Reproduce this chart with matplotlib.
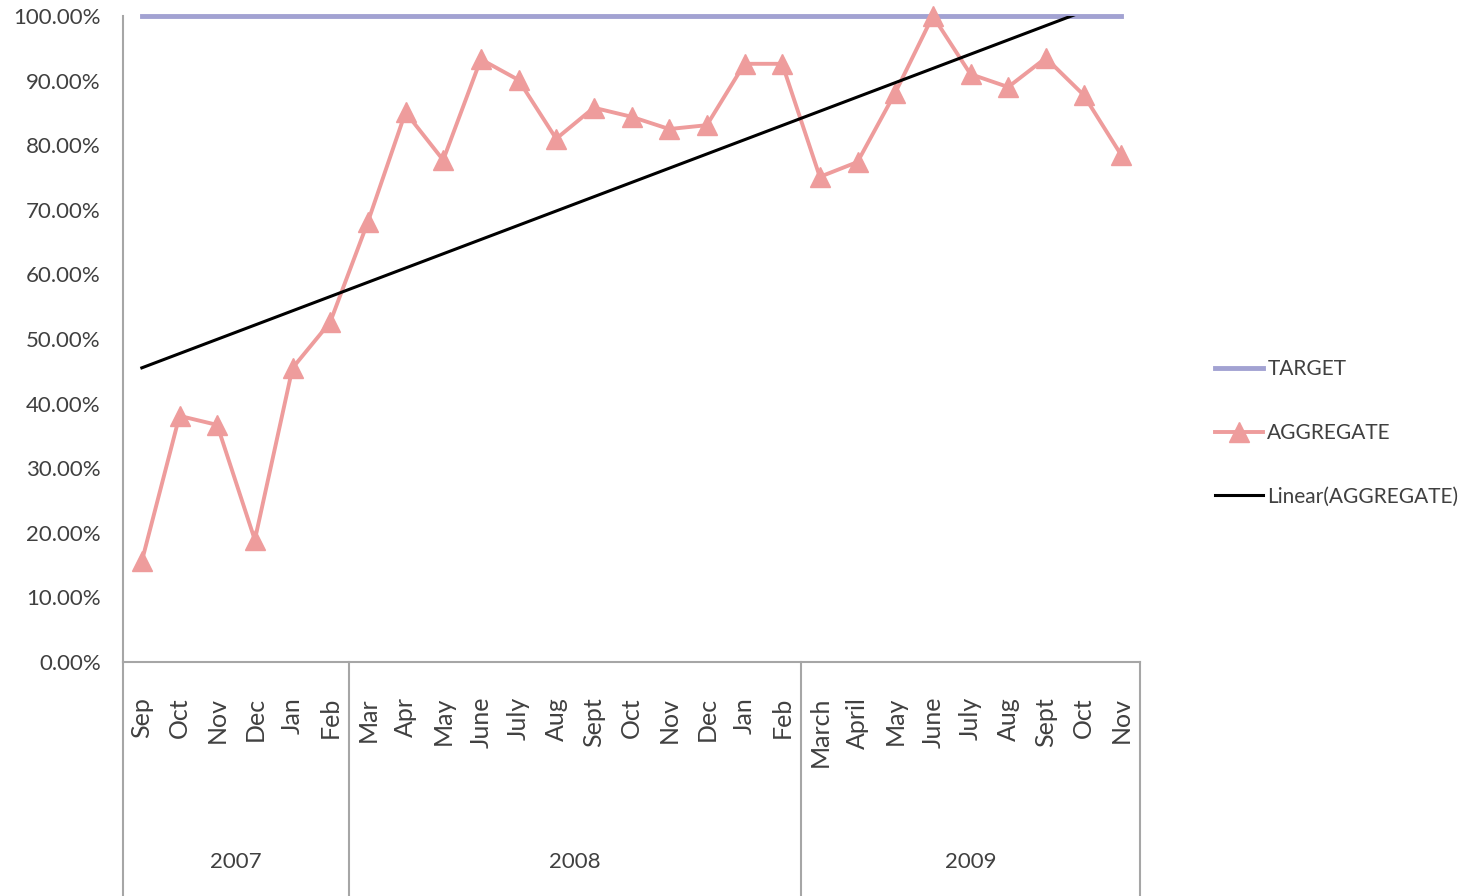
import matplotlib
matplotlib.use('Agg')
import matplotlib.pyplot as plt
from matplotlib.ticker import FuncFormatter
import numpy as np

plt.rcParams['font.family'] = ['Lato', 'DejaVu Sans']

# data
months = ['Sep', 'Oct', 'Nov', 'Dec', 'Jan', 'Feb',
          'Mar', 'Apr', 'May', 'June', 'July', 'Aug', 'Sept', 'Oct', 'Nov', 'Dec', 'Jan', 'Feb',
          'March', 'April', 'May', 'June', 'July', 'Aug', 'Sept', 'Oct', 'Nov']
years = ['2007', '2008', '2009']
months_per_year = [6, 12, 9]
aggregate = [15.6, 38.1, 36.7, 18.9, 45.5, 52.6,
             68.1, 85.1, 77.7, 93.3, 90.1, 81.0, 85.8, 84.4, 82.5, 83.1, 92.6, 92.6,
             75.1, 77.4, 88.1, 100.0, 91.0, 89.0, 93.5, 87.8, 78.5]
target = [100.0] * len(months)

x = np.arange(len(months))
agg = np.array(aggregate) / 100
tgt = np.array(target) / 100
slope, icpt = np.polyfit(x, agg, 1)
trend = slope * x + icpt

text_col = '#404040'
grid_col = '#A6A6A6'
fs = 16

fig = plt.figure(figsize=(14.67, 8.96), dpi=100)
ax = fig.add_axes([123 / 1467, 1 - 662 / 896, (1140 - 123) / 1467, (662 - 16) / 896])

ax.plot(x, tgt, color='#A2A2D2', linewidth=3.5, label='TARGET', clip_on=False, zorder=2)
ax.plot(x, agg, color='#EE9C9C', linewidth=2.8, marker='^', markersize=15,
        label='AGGREGATE', clip_on=False, zorder=3)
ax.plot(x, trend, color='black', linewidth=2.2, label='Linear(AGGREGATE)', zorder=4)

ax.set_xlim(-0.5, len(months) - 0.5)
ax.set_ylim(0, 1)
ax.set_yticks(np.arange(0, 1.01, 0.1))
ax.yaxis.set_major_formatter(FuncFormatter(lambda v, p: '%.2f%%' % (v * 100)))
ax.tick_params(axis='y', length=0, pad=16, labelsize=fs, labelcolor=text_col)
ax.set_xticks([])

for s in ['top', 'right']:
    ax.spines[s].set_visible(False)
for s in ['left', 'bottom']:
    ax.spines[s].set_color(grid_col)
    ax.spines[s].set_linewidth(1.5)

# multi-level category axis
tr = ax.get_xaxis_transform()
bounds = np.concatenate([[0], np.cumsum(months_per_year)]) - 0.5
for b in bounds:
    ax.plot([b, b], [0, -0.40], color=grid_col, linewidth=1.5, transform=tr, clip_on=False)
for i, m in enumerate(months):
    ax.text(i, -0.054, m, transform=tr, rotation=90, ha='center', va='top',
            fontsize=18, color=text_col)
for j, yr in enumerate(years):
    c = (bounds[j] + bounds[j + 1]) / 2
    ax.text(c, -0.31, yr, transform=tr, ha='center', va='center', fontsize=fs, color=text_col)

leg = fig.legend(loc='center left', bbox_to_anchor=(1207 / 1467, 1 - 433 / 896),
                 frameon=False, fontsize=15, handlelength=2.3, handletextpad=0.2,
                 labelspacing=2.1, borderaxespad=0)
for t in leg.get_texts():
    t.set_color(text_col)

plt.savefig('out.png', dpi=100)
plt.close(fig)
